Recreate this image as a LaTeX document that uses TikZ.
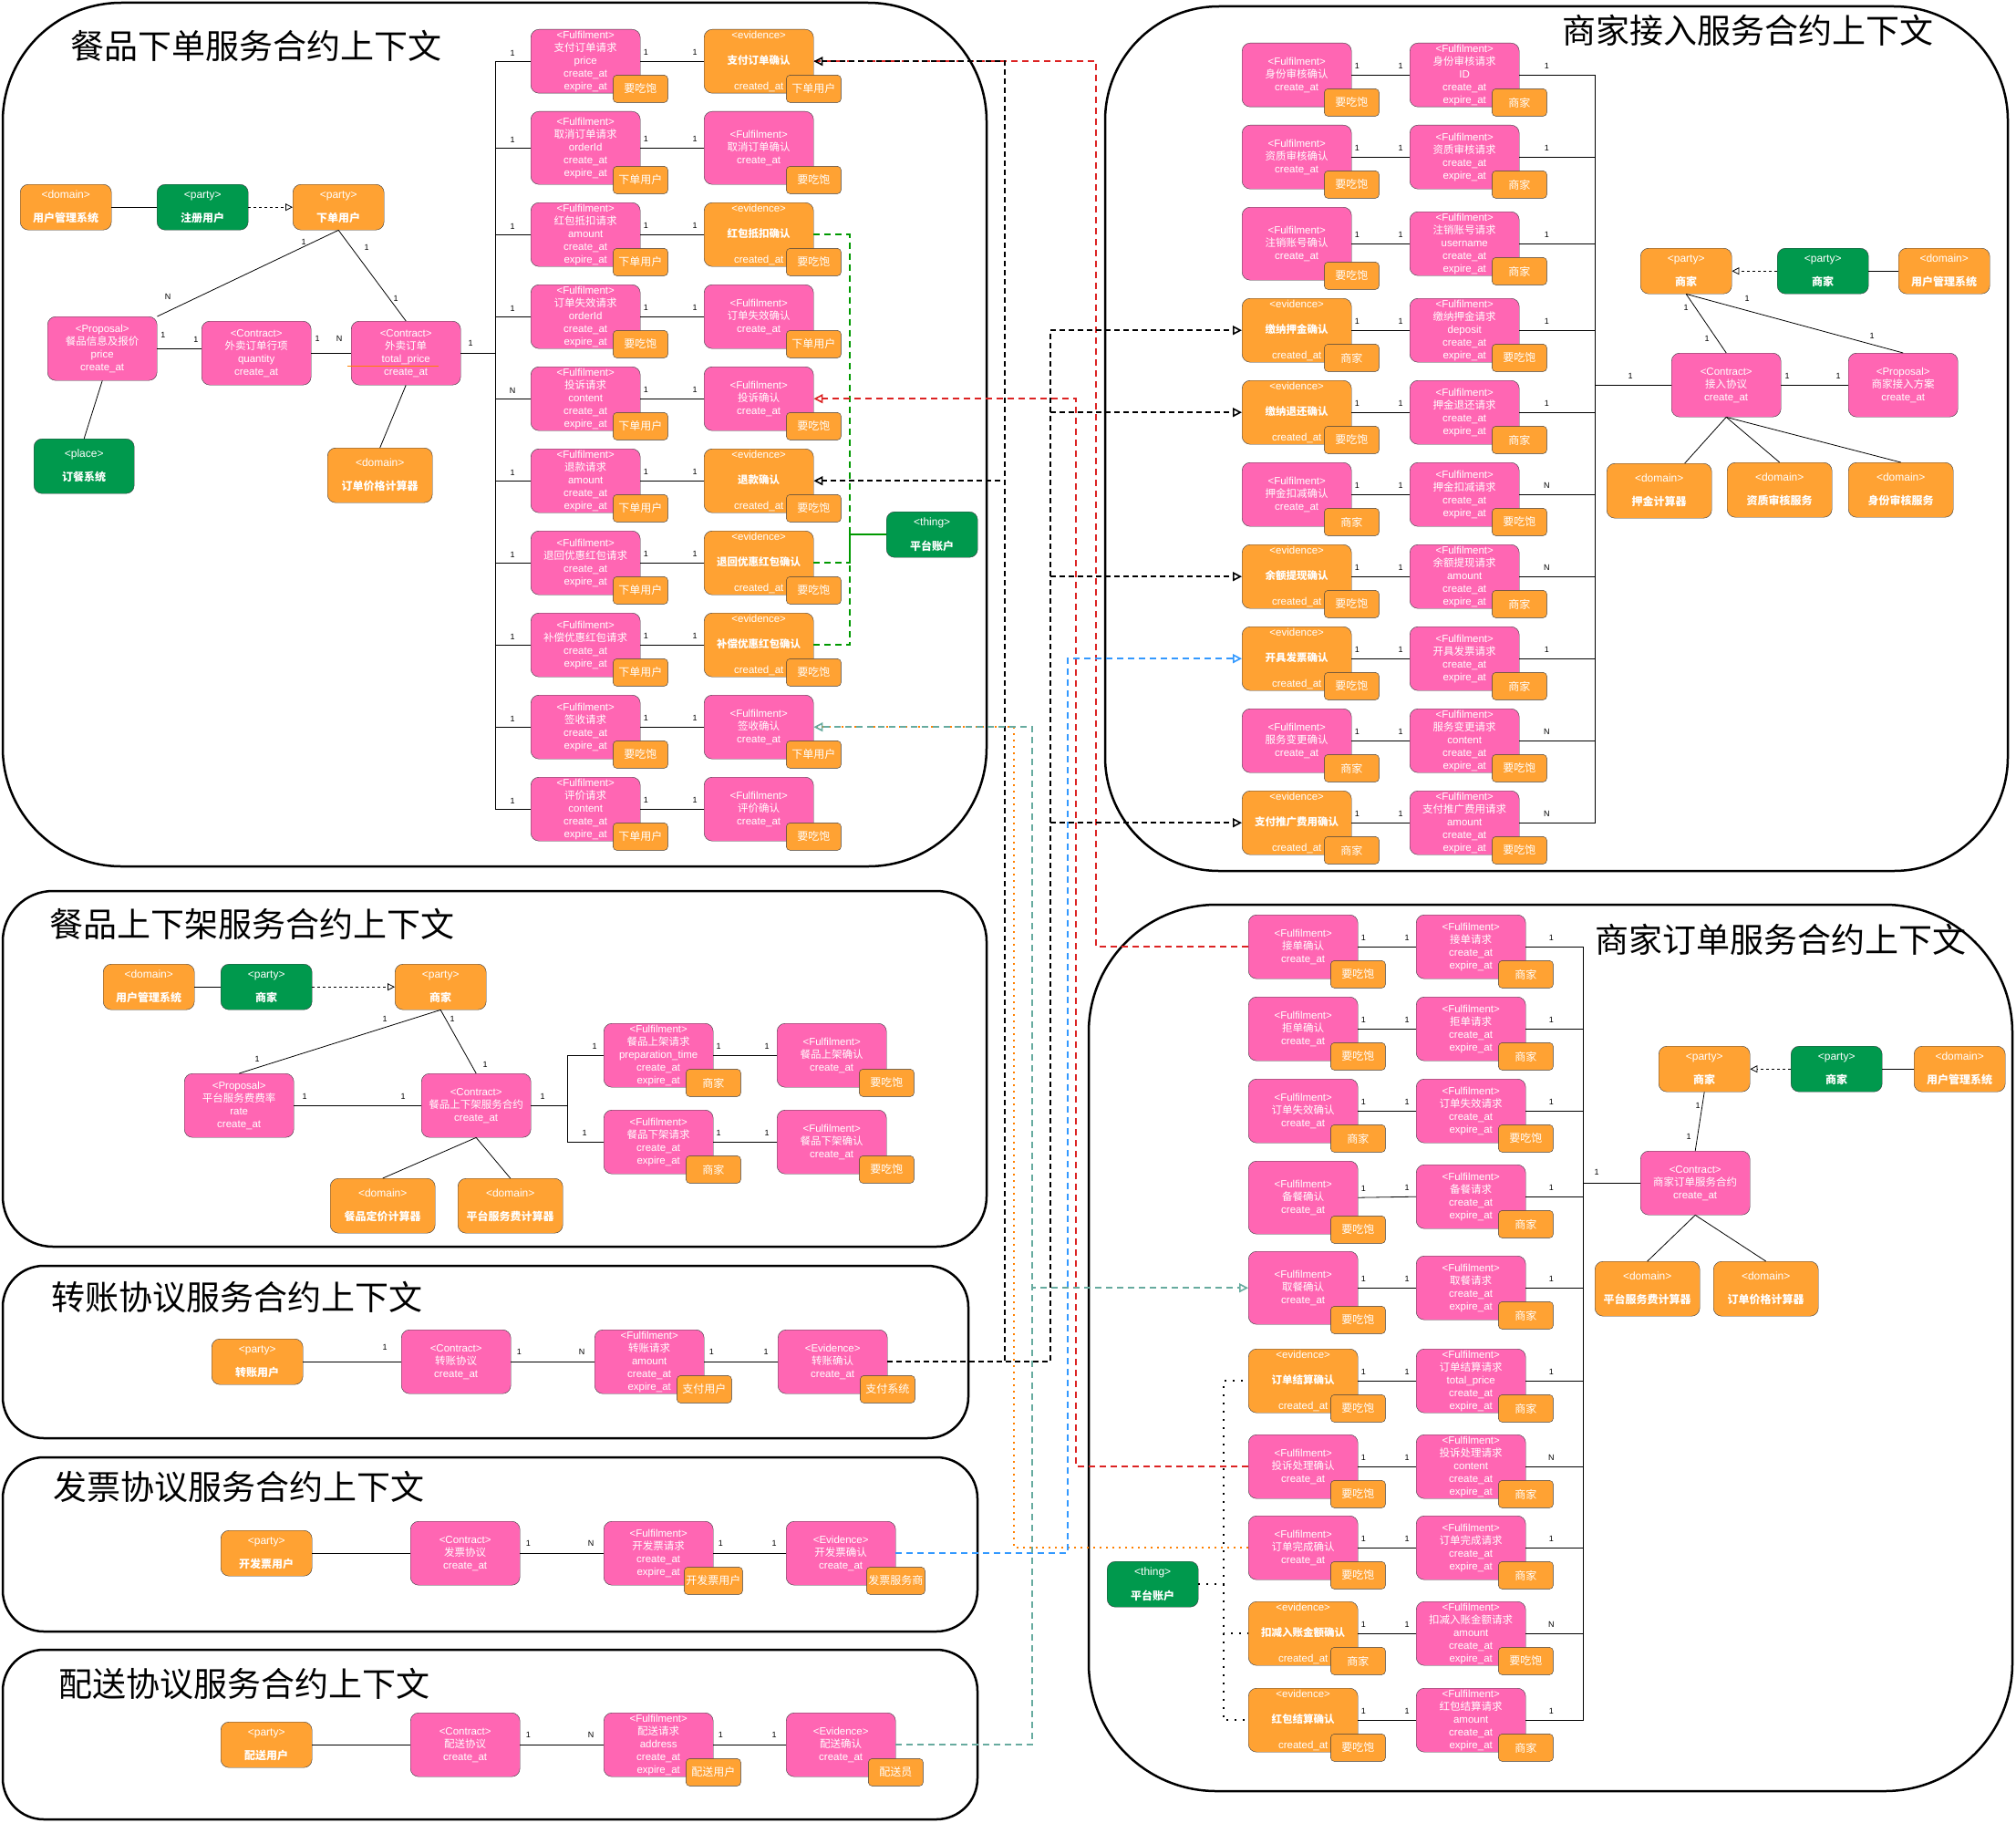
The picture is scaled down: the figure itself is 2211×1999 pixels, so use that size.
\documentclass[tikz,border=0pt]{standalone}
\usepackage{fontspec}
\setmainfont{Liberation Sans}
\newfontfamily\zh{Noto Sans CJK SC}
\usepackage{tikz}
\usetikzlibrary{arrows.meta,calc}
\definecolor{shopPink}{HTML}{FF66B3}
\definecolor{shopOrange}{HTML}{FFA233}
\definecolor{shopGreen}{HTML}{00994D}
\definecolor{shopLine}{HTML}{36393D}
\definecolor{linkRed}{HTML}{DC2323}
\definecolor{linkTeal}{HTML}{67AB9F}
\definecolor{linkBlue}{HTML}{3399FF}
\definecolor{linkGreen}{HTML}{009900}
\definecolor{linkOrange}{HTML}{FF8000}
\newcommand{\cAt}{create\_at}
\newcommand{\eAt}{expire\_at}
\newcommand{\fulText}[2]{<Fulfilment>\\{\zh #1}\\#2}
\newcommand{\eviText}[1]{<evidence>\\[14pt]{\zh\bfseries #1}\\[14pt]created\_at}
\newcommand{\ptyText}[2]{<#1>\\[13pt]{\zh\bfseries #2}}
\newcommand{\entity}[6]{%
  \node[#4] (#1) at (#2,#3) {#5};
  \node[tagbox] (#1t) at ([yshift=5pt]#1.south east) {#6};}

\begin{document}
\begin{tikzpicture}[x=1pt,y=-1pt,
  ent/.style={rectangle,rounded corners=9pt,draw=shopLine,text=white,align=center,
              anchor=north west,inner sep=0pt,font=\fontsize{11.5}{14}\selectfont},
  ful/.style={ent,fill=shopPink,minimum width=120pt,minimum height=70pt},
  evd/.style={ent,fill=shopOrange,minimum width=120pt,minimum height=70pt},
  pty/.style={ent,fill=#1,minimum width=100pt,minimum height=50pt,font=\fontsize{12}{13}\selectfont},
  pty/.default=shopOrange,
  dom/.style={pty,minimum width=115pt,minimum height=60pt},
  tagbox/.style={rectangle,rounded corners=4pt,draw=shopLine,fill=shopOrange,text=white,
                 minimum width=60pt,minimum height=30pt,inner sep=2pt,font=\zh\fontsize{12}{12}\selectfont},
  lbl/.style={font=\fontsize{9}{9}\selectfont,inner sep=0pt},
  ttl/.style={font=\zh\fontsize{37}{37}\selectfont,inner sep=0pt},
  ctxframe/.style={draw=black,line width=2.5pt},
  conn/.style={draw=black,line width=0.8pt},
  isa/.style={dash pattern=on 3pt off 3pt,-{Triangle[open,length=8pt,width=8pt]}},
  openhead/.style={-{Triangle[open,length=10pt,width=10pt]}},
  blkdash/.style={draw=black,line width=1.6pt,dash pattern=on 6pt off 4pt},
  reddash/.style={draw=linkRed,line width=1.6pt,dash pattern=on 7pt off 5pt},
  tealdash/.style={draw=linkTeal,line width=1.6pt,dash pattern=on 7pt off 5pt},
  bluedash/.style={draw=linkBlue,line width=1.6pt,dash pattern=on 7pt off 5pt},
  grndash/.style={draw=linkGreen,line width=1.6pt,dash pattern=on 7pt off 5pt},
  orgdot/.style={draw=linkOrange,line width=2pt,dash pattern=on 2pt off 5pt},
  blkdot/.style={draw=black,line width=2pt,dash pattern=on 2pt off 7pt}
]
\path[use as bounding box,fill=white] (0,0) rectangle (2211,1999);

% Context frames
\draw[ctxframe,rounded corners=130pt] (3,3) rectangle (1082,950);
\draw[ctxframe,rounded corners=125pt] (1212,7) rectangle (2202,955);
\draw[ctxframe,rounded corners=55pt] (3,977) rectangle (1082,1367);
\draw[ctxframe,rounded corners=45pt] (3,1388) rectangle (1062,1577);
\draw[ctxframe,rounded corners=45pt] (3,1598) rectangle (1072,1789);
\draw[ctxframe,rounded corners=45pt] (3,1809) rectangle (1072,1995);
\draw[ctxframe,rounded corners=140pt] (1194,992) rectangle (2207,1964);

\node[ttl] (ttlOrd) at (281,50) {餐品下单服务合约上下文};
\node[ttl] (ttlJoin) at (1917,33) {商家接入服务合约上下文};
\node[ttl] (ttlShelf) at (276,1013) {餐品上下架服务合约上下文};
\node[ttl] (ttlTrf) at (260,1422) {转账协议服务合约上下文};
\node[ttl] (ttlInv) at (262,1630) {发票协议服务合约上下文};
\node[ttl] (ttlDel) at (268,1846) {配送协议服务合约上下文};
\node[ttl] (ttlShop) at (1953,1030) {商家订单服务合约上下文};

% Ordering context
\node[pty] (c1dom) at (22,202) {\ptyText{domain}{用户管理系统}};
\node[pty=shopGreen] (c1reg) at (172,202) {\ptyText{party}{注册用户}};
\node[pty] (c1usr) at (321,202) {\ptyText{party}{下单用户}};
\node[ful] (c1prop) at (52,347) {<Proposal>\\{\zh 餐品信息及报价}\\price\\\cAt};
\node[ful] (c1item) at (221,352) {<Contract>\\{\zh 外卖订单行项}\\quantity\\\cAt};
\node[ful] (c1ord) at (385,352) {<Contract>\\{\zh 外卖订单}\\total\_price\\\cAt};
\node[dom,fill=shopGreen,minimum width=110pt] (c1sys) at (37,481) {\ptyText{place}{订餐系统}};
\node[dom] (c1calc) at (359,491) {\ptyText{domain}{订单价格计算器}};
\node[pty=shopGreen] (c1thing) at (972,561) {\ptyText{thing}{平台账户}};

\entity{ordL1}{582}{32}{ful}{\fulText{支付订单请求}{price\\\cAt\\\eAt}}{要吃饱}
\entity{ordR1}{772}{32}{evd}{\eviText{支付订单确认}}{下单用户}
\entity{ordL2}{582}{122}{ful,minimum height=80pt}{\fulText{取消订单请求}{orderId\\\cAt\\\eAt}}{下单用户}
\entity{ordR2}{772}{122}{ful,minimum height=80pt}{\fulText{取消订单确认}{\cAt}}{要吃饱}
\entity{ordL3}{582}{222}{ful}{\fulText{红包抵扣请求}{amount\\\cAt\\\eAt}}{下单用户}
\entity{ordR3}{772}{222}{evd}{\eviText{红包抵扣确认}}{要吃饱}
\entity{ordL4}{582}{312}{ful}{\fulText{订单失效请求}{orderId\\\cAt\\\eAt}}{要吃饱}
\entity{ordR4}{772}{312}{ful}{\fulText{订单失效确认}{\cAt}}{下单用户}
\entity{ordL5}{582}{402}{ful}{\fulText{投诉请求}{content\\\cAt\\\eAt}}{下单用户}
\entity{ordR5}{772}{402}{ful}{\fulText{投诉确认}{\cAt}}{要吃饱}
\entity{ordL6}{582}{492}{ful}{\fulText{退款请求}{amount\\\cAt\\\eAt}}{下单用户}
\entity{ordR6}{772}{492}{evd}{\eviText{退款确认}}{要吃饱}
\entity{ordL7}{582}{582}{ful}{\fulText{退回优惠红包请求}{\cAt\\\eAt}}{下单用户}
\entity{ordR7}{772}{582}{evd}{\eviText{退回优惠红包确认}}{要吃饱}
\entity{ordL8}{582}{672}{ful}{\fulText{补偿优惠红包请求}{\cAt\\\eAt}}{下单用户}
\entity{ordR8}{772}{672}{evd}{\eviText{补偿优惠红包确认}}{要吃饱}
\entity{ordL9}{582}{762}{ful}{\fulText{签收请求}{\cAt\\\eAt}}{要吃饱}
\entity{ordR9}{772}{762}{ful}{\fulText{签收确认}{\cAt}}{下单用户}
\entity{ordL10}{582}{852}{ful}{\fulText{评价请求}{content\\\cAt\\\eAt}}{下单用户}
\entity{ordR10}{772}{852}{ful}{\fulText{评价确认}{\cAt}}{要吃饱}

\draw[linkOrange,line width=1pt] (381,401) -- (481,401);
\draw[conn] (c1dom.east) -- (c1reg.west);
\draw[conn,isa] (c1reg.east) -- (c1usr.west);
\draw[conn] (c1usr.south) -- (c1prop.north east);
\draw[conn] (c1usr.south) -- (c1ord.north);
\draw[conn] (c1prop.east) -- (c1prop.east -| c1item.west);
\draw[conn] (c1item.east) -- (c1ord.west);
\draw[conn] (c1prop.south) -- (c1sys.north);
\draw[conn] (c1ord.south) -- (c1calc.north);
\node[lbl] at (333,265) {1}; \node[lbl] at (184,325) {N};
\node[lbl] at (402,271) {1}; \node[lbl] at (434,327) {1};
\node[lbl] at (179,367) {1}; \node[lbl] at (215,372) {1};
\node[lbl] at (348,371) {1}; \node[lbl] at (372,371) {N};
\node[lbl] at (516,376) {1};
\foreach \i/\m in {1/1,2/1,3/1,4/1,5/N,6/1,7/1,8/1,9/1,10/1}{
  \draw[conn] (c1ord.east) -- ++(38,0) |- (ordL\i.west) node[lbl,pos=1,xshift=-20pt,yshift=9pt]{\m};
  \draw[conn] (ordL\i.east) -- (ordR\i.west) node[lbl,pos=0,xshift=6pt,yshift=10pt]{1}
                                             node[lbl,pos=1,xshift=-10pt,yshift=10pt]{1};
}

% Merchant onboarding context
\node[pty] (jnPty) at (1799,272) {\ptyText{party}{商家}};
\node[pty=shopGreen] (jnGrn) at (1949,272) {\ptyText{party}{商家}};
\node[pty] (jnDom) at (2082,272) {\ptyText{domain}{用户管理系统}};
\node[ful] (jnC) at (1833,387) {<Contract>\\{\zh 接入协议}\\\cAt};
\node[ful] (jnProp) at (2027,387) {<Proposal>\\{\zh 商家接入方案}\\\cAt};
\node[dom] (jnD1) at (1762,508) {\ptyText{domain}{押金计算器}};
\node[dom] (jnD2) at (1894,507) {\ptyText{domain}{资质审核服务}};
\node[dom] (jnD3) at (2027,507) {\ptyText{domain}{身份审核服务}};

\entity{jnL1}{1362}{47}{ful}{\fulText{身份审核确认}{\cAt}}{要吃饱}
\entity{jnR1}{1546}{47}{ful}{\fulText{身份审核请求}{ID\\\cAt\\\eAt}}{商家}
\entity{jnL2}{1362}{137}{ful}{\fulText{资质审核确认}{\cAt}}{要吃饱}
\entity{jnR2}{1546}{137}{ful}{\fulText{资质审核请求}{\cAt\\\eAt}}{商家}
\entity{jnL3}{1362}{227}{ful,minimum height=80pt}{\fulText{注销账号确认}{\cAt}}{要吃饱}
\entity{jnR3}{1546}{232}{ful}{\fulText{注销账号请求}{username\\\cAt\\\eAt}}{商家}
\entity{jnL4}{1362}{327}{evd}{\eviText{缴纳押金确认}}{商家}
\entity{jnR4}{1546}{327}{ful}{\fulText{缴纳押金请求}{deposit\\\cAt\\\eAt}}{要吃饱}
\entity{jnL5}{1362}{417}{evd}{\eviText{缴纳退还确认}}{要吃饱}
\entity{jnR5}{1546}{417}{ful}{\fulText{押金退还请求}{\cAt\\\eAt}}{商家}
\entity{jnL6}{1362}{507}{ful}{\fulText{押金扣减确认}{\cAt}}{商家}
\entity{jnR6}{1546}{507}{ful}{\fulText{押金扣减请求}{\cAt\\\eAt}}{要吃饱}
\entity{jnL7}{1362}{597}{evd}{\eviText{余额提现确认}}{要吃饱}
\entity{jnR7}{1546}{597}{ful}{\fulText{余额提现请求}{amount\\\cAt\\\eAt}}{商家}
\entity{jnL8}{1362}{687}{evd}{\eviText{开具发票确认}}{要吃饱}
\entity{jnR8}{1546}{687}{ful}{\fulText{开具发票请求}{\cAt\\\eAt}}{商家}
\entity{jnL9}{1362}{777}{ful}{\fulText{服务变更确认}{\cAt}}{商家}
\entity{jnR9}{1546}{777}{ful}{\fulText{服务变更请求}{content\\\cAt\\\eAt}}{要吃饱}
\entity{jnL10}{1362}{867}{evd}{\eviText{支付推广费用确认}}{商家}
\entity{jnR10}{1546}{867}{ful}{\fulText{支付推广费用请求}{amount\\\cAt\\\eAt}}{要吃饱}

\draw[conn,isa] (jnGrn.west) -- (jnPty.east);
\draw[conn] (jnGrn.east) -- (jnDom.west);
\draw[conn] (jnPty.south) -- (jnC.north);
\draw[conn] (jnPty.south) -- (jnProp.north);
\draw[conn] (jnC.east) -- (jnProp.west);
\draw[conn] (jnC.south) -- ([xshift=28pt]jnD1.north);
\draw[conn] (jnC.south) -- (jnD2.north);
\draw[conn] (jnC.south) -- (jnD3.north);
\node[lbl] at (1849,337) {1}; \node[lbl] at (1872,371) {1};
\node[lbl] at (1916,327) {1}; \node[lbl] at (2053,368) {1};
\node[lbl] at (1960,412) {1}; \node[lbl] at (2016,412) {1};
\node[lbl] at (1788,412) {1};
\foreach \i/\m in {1/1,2/1,3/1,4/1,5/1,6/N,7/N,8/1,9/N,10/N}{
  \draw[conn] (jnC.west) -- ++(-84,0) |- (jnR\i.east) node[lbl,pos=1,xshift=30pt,yshift=10pt]{\m};
  \draw[conn] (jnL\i.east) -- (jnR\i.west) node[lbl,pos=0,xshift=6pt,yshift=10pt]{1}
                                           node[lbl,pos=1,xshift=-10pt,yshift=10pt]{1};
}

% Merchant order context
\node[pty] (shPty) at (1819,1147) {\ptyText{party}{商家}};
\node[pty=shopGreen] (shGrn) at (1964,1147) {\ptyText{party}{商家}};
\node[pty] (shDom) at (2099,1147) {\ptyText{domain}{用户管理系统}};
\node[ful] (shC) at (1799,1262) {<Contract>\\{\zh 商家订单服务合约}\\\cAt};
\node[dom] (shD1) at (1749,1383) {\ptyText{domain}{平台服务费计算器}};
\node[dom] (shD2) at (1879,1383) {\ptyText{domain}{订单价格计算器}};
\node[pty=shopGreen] (shThing) at (1214,1712) {\ptyText{thing}{平台账户}};

\entity{shL1}{1369}{1003}{ful}{\fulText{接单确认}{\cAt}}{要吃饱}
\entity{shR1}{1553}{1003}{ful}{\fulText{接单请求}{\cAt\\\eAt}}{商家}
\entity{shL2}{1369}{1093}{ful}{\fulText{拒单确认}{\cAt}}{要吃饱}
\entity{shR2}{1553}{1093}{ful}{\fulText{拒单请求}{\cAt\\\eAt}}{商家}
\entity{shL3}{1369}{1183}{ful}{\fulText{订单失效确认}{\cAt}}{商家}
\entity{shR3}{1553}{1183}{ful}{\fulText{订单失效请求}{\cAt\\\eAt}}{要吃饱}
\entity{shL4}{1369}{1273}{ful,minimum height=80pt}{\fulText{备餐确认}{\cAt}}{要吃饱}
\entity{shR4}{1553}{1277}{ful}{\fulText{备餐请求}{\cAt\\\eAt}}{商家}
\entity{shL5}{1369}{1372}{ful,minimum height=80pt}{\fulText{取餐确认}{\cAt}}{要吃饱}
\entity{shR5}{1553}{1377}{ful}{\fulText{取餐请求}{\cAt\\\eAt}}{商家}
\entity{shL6}{1369}{1479}{evd}{\eviText{订单结算确认}}{要吃饱}
\entity{shR6}{1553}{1479}{ful}{\fulText{订单结算请求}{total\_price\\\cAt\\\eAt}}{商家}
\entity{shL7}{1369}{1573}{ful}{\fulText{投诉处理确认}{\cAt}}{要吃饱}
\entity{shR7}{1553}{1573}{ful}{\fulText{投诉处理请求}{content\\\cAt\\\eAt}}{商家}
\entity{shL8}{1369}{1662}{ful}{\fulText{订单完成确认}{\cAt}}{要吃饱}
\entity{shR8}{1553}{1662}{ful}{\fulText{订单完成请求}{\cAt\\\eAt}}{商家}
\entity{shL9}{1369}{1756}{evd}{\eviText{扣减入账金额确认}}{商家}
\entity{shR9}{1553}{1756}{ful}{\fulText{扣减入账金额请求}{amount\\\cAt\\\eAt}}{要吃饱}
\entity{shL10}{1369}{1851}{evd}{\eviText{红包结算确认}}{要吃饱}
\entity{shR10}{1553}{1851}{ful}{\fulText{红包结算请求}{amount\\\cAt\\\eAt}}{商家}

\draw[conn,isa] (shGrn.west) -- (shPty.east);
\draw[conn] (shGrn.east) -- (shDom.west);
\draw[conn] (shPty.south) -- (shC.north);
\draw[conn] (shC.south) -- (shD1.north);
\draw[conn] (shC.south) -- (shD2.north);
\node[lbl] at (1862,1212) {1}; \node[lbl] at (1852,1246) {1};
\node[lbl] at (1751,1285) {1};
\foreach \i/\m in {1/1,2/1,3/1,4/1,5/1,6/1,7/N,8/1,9/N,10/1}{
  \draw[conn] (shC.west) -- ++(-63,0) |- (shR\i.east) node[lbl,pos=1,xshift=28pt,yshift=10pt]{\m};
  \draw[conn] (shL\i.east) -- (shR\i.west) node[lbl,pos=0,xshift=6pt,yshift=10pt]{1}
                                           node[lbl,pos=1,xshift=-10pt,yshift=10pt]{1};
}

% Listing context
\node[pty] (udDom) at (113,1057) {\ptyText{domain}{用户管理系统}};
\node[pty=shopGreen] (udGrn) at (242,1057) {\ptyText{party}{商家}};
\node[pty] (udPty) at (433,1057) {\ptyText{party}{商家}};
\node[ful] (udProp) at (202,1177) {<Proposal>\\{\zh 平台服务费费率}\\rate\\\cAt};
\node[ful] (udC) at (462,1177) {<Contract>\\{\zh 餐品上下架服务合约}\\\cAt};
\node[dom] (udD1) at (362,1292) {\ptyText{domain}{餐品定价计算器}};
\node[dom] (udD2) at (502,1292) {\ptyText{domain}{平台服务费计算器}};
\entity{udL1}{662}{1122}{ful}{\fulText{餐品上架请求}{preparation\_time\\\cAt\\\eAt}}{商家}
\entity{udR1}{852}{1122}{ful}{\fulText{餐品上架确认}{\cAt}}{要吃饱}
\entity{udL2}{662}{1217}{ful}{\fulText{餐品下架请求}{\cAt\\\eAt}}{商家}
\entity{udR2}{852}{1217}{ful}{\fulText{餐品下架确认}{\cAt}}{要吃饱}

\draw[conn] (udDom.east) -- (udGrn.west);
\draw[conn,isa] (udGrn.east) -- (udPty.west);
\draw[conn] (udPty.south) -- (udProp.north);
\draw[conn] (udPty.south) -- (udC.north);
\draw[conn] (udProp.east) -- (udC.west);
\draw[conn] (udC.south) -- (udD1.north);
\draw[conn] (udC.south) -- (udD2.north);
\foreach \i in {1,2}{
  \draw[conn] (udC.east) -- ++(40,0) |- (udL\i.west);
  \draw[conn] (udL\i.east) -- (udR\i.west);
}
\node[lbl] at (422,1117) {1}; \node[lbl] at (282,1161) {1};
\node[lbl] at (496,1117) {1}; \node[lbl] at (532,1167) {1};
\node[lbl] at (334,1202) {1}; \node[lbl] at (442,1202) {1};
\node[lbl] at (595,1202) {1}; \node[lbl] at (652,1147) {1};
\node[lbl] at (641,1242) {1};
\node[lbl] at (788,1147) {1}; \node[lbl] at (841,1147) {1};
\node[lbl] at (788,1242) {1}; \node[lbl] at (841,1242) {1};

% Transfer, invoice and delivery contexts
\node[pty] (trfP) at (232,1468) {\ptyText{party}{转账用户}};
\node[ful] (trfC) at (440,1458) {<Contract>\\{\zh 转账协议}\\\cAt};
\entity{trfF}{652}{1458}{ful}{\fulText{转账请求}{amount\\\cAt\\\eAt}}{支付用户}
\entity{trfE}{853}{1458}{ful}{<Evidence>\\{\zh 转账确认}\\\cAt}{支付系统}
\node[pty] (invP) at (242,1678) {\ptyText{party}{开发票用户}};
\node[ful] (invC) at (450,1668) {<Contract>\\{\zh 发票协议}\\\cAt};
\entity{invF}{662}{1668}{ful}{\fulText{开发票请求}{\cAt\\\eAt}}{开发票用户}
\entity{invE}{862}{1668}{ful}{<Evidence>\\{\zh 开发票确认}\\\cAt}{发票服务商}
\node[pty] (delP) at (242,1888) {\ptyText{party}{配送用户}};
\node[ful] (delC) at (450,1878) {<Contract>\\{\zh 配送协议}\\\cAt};
\entity{delF}{662}{1878}{ful}{\fulText{配送请求}{address\\\cAt\\\eAt}}{配送用户}
\entity{delE}{862}{1878}{ful}{<Evidence>\\{\zh 配送确认}\\\cAt}{配送员}
\foreach \k in {trf,inv,del}{
  \draw[conn] (\k P.east) -- (\k C.west);
  \draw[conn] (\k C.east) -- (\k F.west) node[lbl,pos=0,xshift=9pt,yshift=11pt]{1}
                                         node[lbl,pos=1,xshift=-14pt,yshift=11pt]{N};
  \draw[conn] (\k F.east) -- (\k E.west) node[lbl,pos=0,xshift=8pt,yshift=11pt]{1}
                                         node[lbl,pos=1,xshift=-13pt,yshift=11pt]{1};
}
\node[lbl] at ([xshift=-18pt,yshift=16pt]trfC.west) {1};

% Cross-context links
\coordinate (busA) at (1102,0);
\coordinate (busB) at (1152,0);
\coordinate (redA) at (1202,0);
\coordinate (redB) at (1180,0);
\coordinate (tealX) at (1132,0);
\coordinate (orgX) at (1112,0);
\coordinate (bluX) at (1171,0);
\coordinate (grnX) at (932,0);
\coordinate (dotX) at (1342,0);

\foreach \i in {3,7,8}
  \draw[grndash] (ordR\i.east) -- (ordR\i.east -| grnX) |- (c1thing.west);
\draw[orgdot] (shL8.west) -- (shL8.west -| orgX) |- (ordR9.east);
\draw[reddash] (shL1.west) -- (shL1.west -| redA) |- (ordR1.east);
\draw[reddash,openhead] (shL7.west) -- (shL7.west -| redB) |- (ordR5.east);
\draw[blkdash,openhead] (trfE.east) -- (trfE.east -| busA) |- (ordR1.east);
\draw[blkdash,openhead] (trfE.east) -- (trfE.east -| busA) |- (ordR6.east);
\foreach \i in {4,5,7,10}
  \draw[blkdash,openhead] (trfE.east) -- (trfE.east -| busB) |- (jnL\i.west);
\draw[bluedash,openhead] (invE.east) -- (invE.east -| bluX) |- (jnL8.west);
\draw[tealdash,openhead] (delE.east) -- (delE.east -| tealX) |- (ordR9.east);
\draw[tealdash,openhead] (delE.east) -- (delE.east -| tealX) |- (shL5.west);
\foreach \i in {6,9,10}
  \draw[blkdot] (shThing.east) -- (shThing.east -| dotX) |- (shL\i.west);
\end{tikzpicture}
\end{document}
